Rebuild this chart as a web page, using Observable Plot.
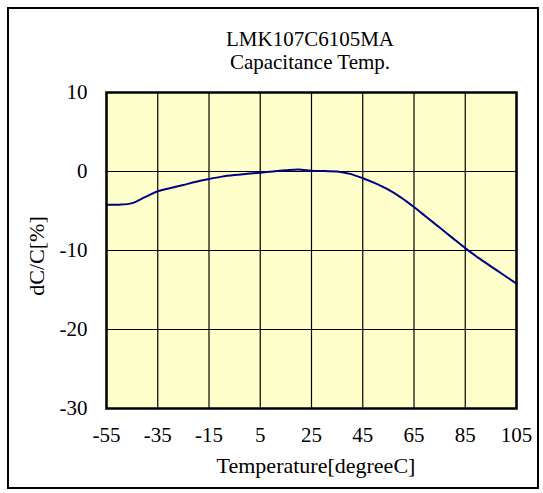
<!DOCTYPE html>
<html>
<head>
<meta charset="utf-8">
<script src="https://cdn.jsdelivr.net/npm/d3@7"></script>
<script src="https://cdn.jsdelivr.net/npm/@observablehq/plot@0.6"></script>
<style>
  html, body { margin: 0; padding: 0; background: #fff; }
  #wrap { position: relative; width: 543px; height: 493px; }
  #frame { position: absolute; left: 7px; top: 7px; width: 532px; height: 482px; border: 2px solid #000; box-sizing: border-box; pointer-events: none; }
</style>
</head>
<body>
<div id="wrap"><div id="frame"></div></div>
<script>
const titleLines = ["LMK107C6105MA", "Capacitance Temp."];
const xLabel = "Temperature[degreeC]";
const yLabel = "dC/C[%]";
const xTicks = [-55, -35, -15, 5, 25, 45, 65, 85, 105];
const yTicks = [-30, -20, -10, 0, 10];
const temps = [-55,-50,-45,-40,-35,-30,-25,-20,-15,-10,-5,0,5,10,15,20,25,30,35,40,45,50,55,60,65,70,75,80,85,90,95,100,105];
const dC    = [-4.2,-4.2,-4.0,-3.25,-2.5,-2.1,-1.7,-1.3,-0.95,-0.65,-0.45,-0.3,-0.15,0.0,0.15,0.25,0.1,0.05,0.0,-0.3,-0.85,-1.5,-2.3,-3.3,-4.5,-5.8,-7.1,-8.4,-9.7,-10.9,-12.0,-13.1,-14.2];

const data = temps.map((t, i) => ({t, v: dC[i]}));
const font = "'Liberation Serif', 'Times New Roman', serif";
const fmt = d => String(d);

const chart = Plot.plot({
  width: 543,
  height: 493,
  marginLeft: 106,
  marginRight: 27,
  marginTop: 92,
  marginBottom: 85,
  style: {fontFamily: font, fontSize: "21px", background: "transparent", color: "#000"},
  x: {domain: [-55, 105], ticks: xTicks, tickSize: 0, tickPadding: 19, tickFormat: fmt, label: null},
  y: {domain: [-30, 10], ticks: yTicks, tickSize: 0, tickPadding: 19, tickFormat: fmt, label: null},
  marks: [
    Plot.frame({fill: "#FFFFCC", stroke: null}),
    Plot.gridX(xTicks, {stroke: "#000", strokeOpacity: 1, strokeWidth: 1.2}),
    Plot.gridY(yTicks, {stroke: "#000", strokeOpacity: 1, strokeWidth: 1.2}),
    Plot.line(data, {x: "t", y: "v", stroke: "#000080", strokeWidth: 2, curve: "catmull-rom"}),
    Plot.frame({stroke: "#000", strokeWidth: 2.5})
  ]
});
chart.style.position = "absolute";
chart.style.left = "0px";
chart.style.top = "0px";
document.getElementById("wrap").prepend(chart);

const svg = d3.select(chart);
const g = svg.append("g").attr("font-family", font).attr("fill", "#000");
g.append("text").attr("x", 310).attr("y", 46).attr("text-anchor", "middle").attr("font-size", 21).text(titleLines[0]);
g.append("text").attr("x", 310).attr("y", 69).attr("text-anchor", "middle").attr("font-size", 21).text(titleLines[1]);
g.append("text").attr("x", 316).attr("y", 473).attr("text-anchor", "middle").attr("font-size", 22).text(xLabel);
g.append("text").attr("transform", "translate(44,256) rotate(-90)").attr("text-anchor", "middle").attr("font-size", 22).text(yLabel);
</script>
</body>
</html>
